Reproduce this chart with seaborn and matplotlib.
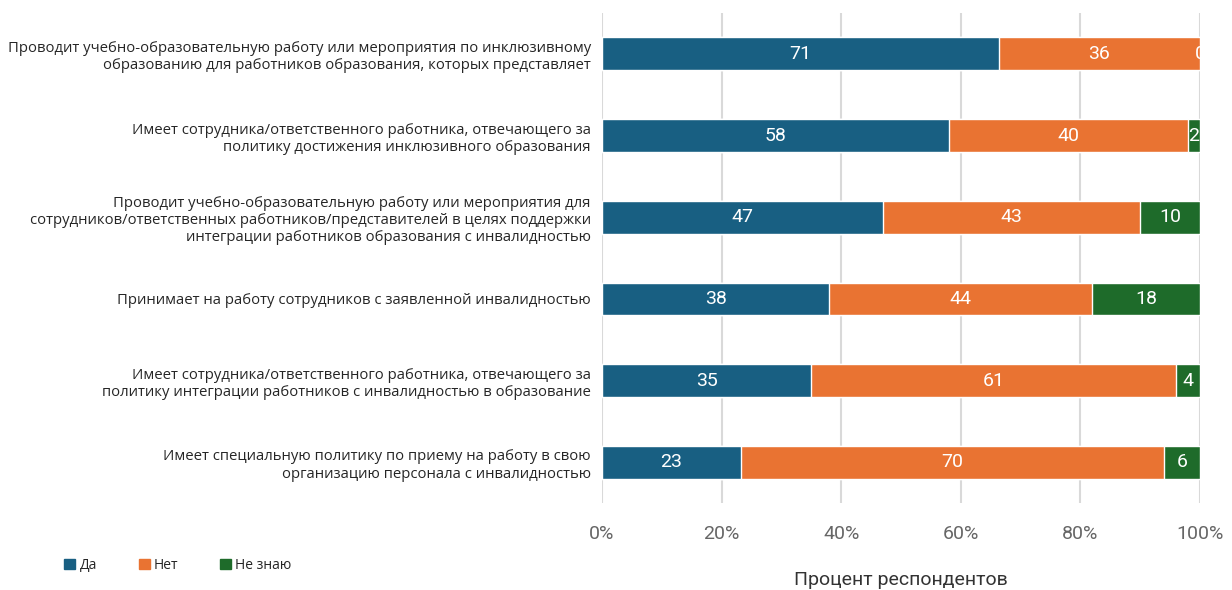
import numpy as np
import pandas as pd
import matplotlib
matplotlib.use("Agg")
import matplotlib.pyplot as plt
import seaborn as sns

# Data
questions = [
    "Проводит учебно-образовательную работу или мероприятия по инклюзивному\nобразованию для работников образования, которых представляет",
    "Имеет сотрудника/ответственного работника, отвечающего за\nполитику достижения инклюзивного образования",
    "Проводит учебно-образовательную работу или мероприятия для\nсотрудников/ответственных работников/представителей в целях поддержки\nинтеграции работников образования с инвалидностью",
    "Принимает на работу сотрудников с заявленной инвалидностью",
    "Имеет сотрудника/ответственного работника, отвечающего за\nполитику интеграции работников с инвалидностью в образование",
    "Имеет специальную политику по приему на работу в свою\nорганизацию персонала с инвалидностью",
]
yes = [71, 58, 47, 38, 35, 23]
no = [36, 40, 43, 44, 61, 70]
dont_know = [0, 2, 10, 18, 4, 6]
series_names = ["Да", "Нет", "Не знаю"]
colors = ["#185f82", "#e97332", "#1e6b2a"]

sns.set_style("white")
plt.rcParams['font.family'] = ['Open Sans', 'DejaVu Sans']

df = pd.DataFrame({"q": questions, "Да": yes, "Нет": no, "Не знаю": dont_know})
total = df[series_names].sum(axis=1)
pct = df[series_names].div(total, axis=0) * 100
cum = pct.cumsum(axis=1)

fig = plt.figure(figsize=(12.32, 5.9), dpi=100)
ax = fig.add_axes([0.4886, 0.147, 0.4855, 0.831])

# stacked bars: draw cumulative totals from the back
for name, color in reversed(list(zip(series_names, colors))):
    sns.barplot(x=cum[name], y=df["q"], color=color, width=0.4,
                orient="h", ax=ax, saturation=1, zorder=3)

# value labels in the middle of each segment
for i in range(len(df)):
    left = 0
    for name in series_names:
        w = pct.loc[i, name]
        ax.text(left + w / 2, i, str(df.loc[i, name]), ha="center", va="center",
                color="white", fontsize=14, family="Roboto",
                zorder=5, clip_on=True)
        left += w

ax.set_xlim(0, 100)
ax.set_xticks(np.arange(0, 101, 20))
ax.set_xticklabels([f"{v}%" for v in range(0, 101, 20)], family="Roboto",
                   fontsize=14, color="#666666")
ax.grid(axis="x", color="#d9d9d9", linewidth=1.5, zorder=0)
ax.tick_params(axis="x", length=6, color="#d9d9d9", width=1.5, pad=10)
ax.tick_params(axis="y", length=0, pad=8, labelsize=10.7)
for s in ax.spines.values():
    s.set_visible(False)
ax.set_ylabel("")
ax.set_xlabel("Процент респондентов", family="Roboto",
              fontsize=14, color="#333333", labelpad=20)

handles = [plt.Rectangle((0, 0), 1, 1, color=c) for c in colors]
fig.legend(handles, series_names, loc="center left", bbox_to_anchor=(0.042, 0.042),
           ncol=3, frameon=False, fontsize=10, handlelength=0.8, handleheight=0.8,
           handletextpad=0.3, columnspacing=3.0)

fig.savefig("out.png", dpi=100)
